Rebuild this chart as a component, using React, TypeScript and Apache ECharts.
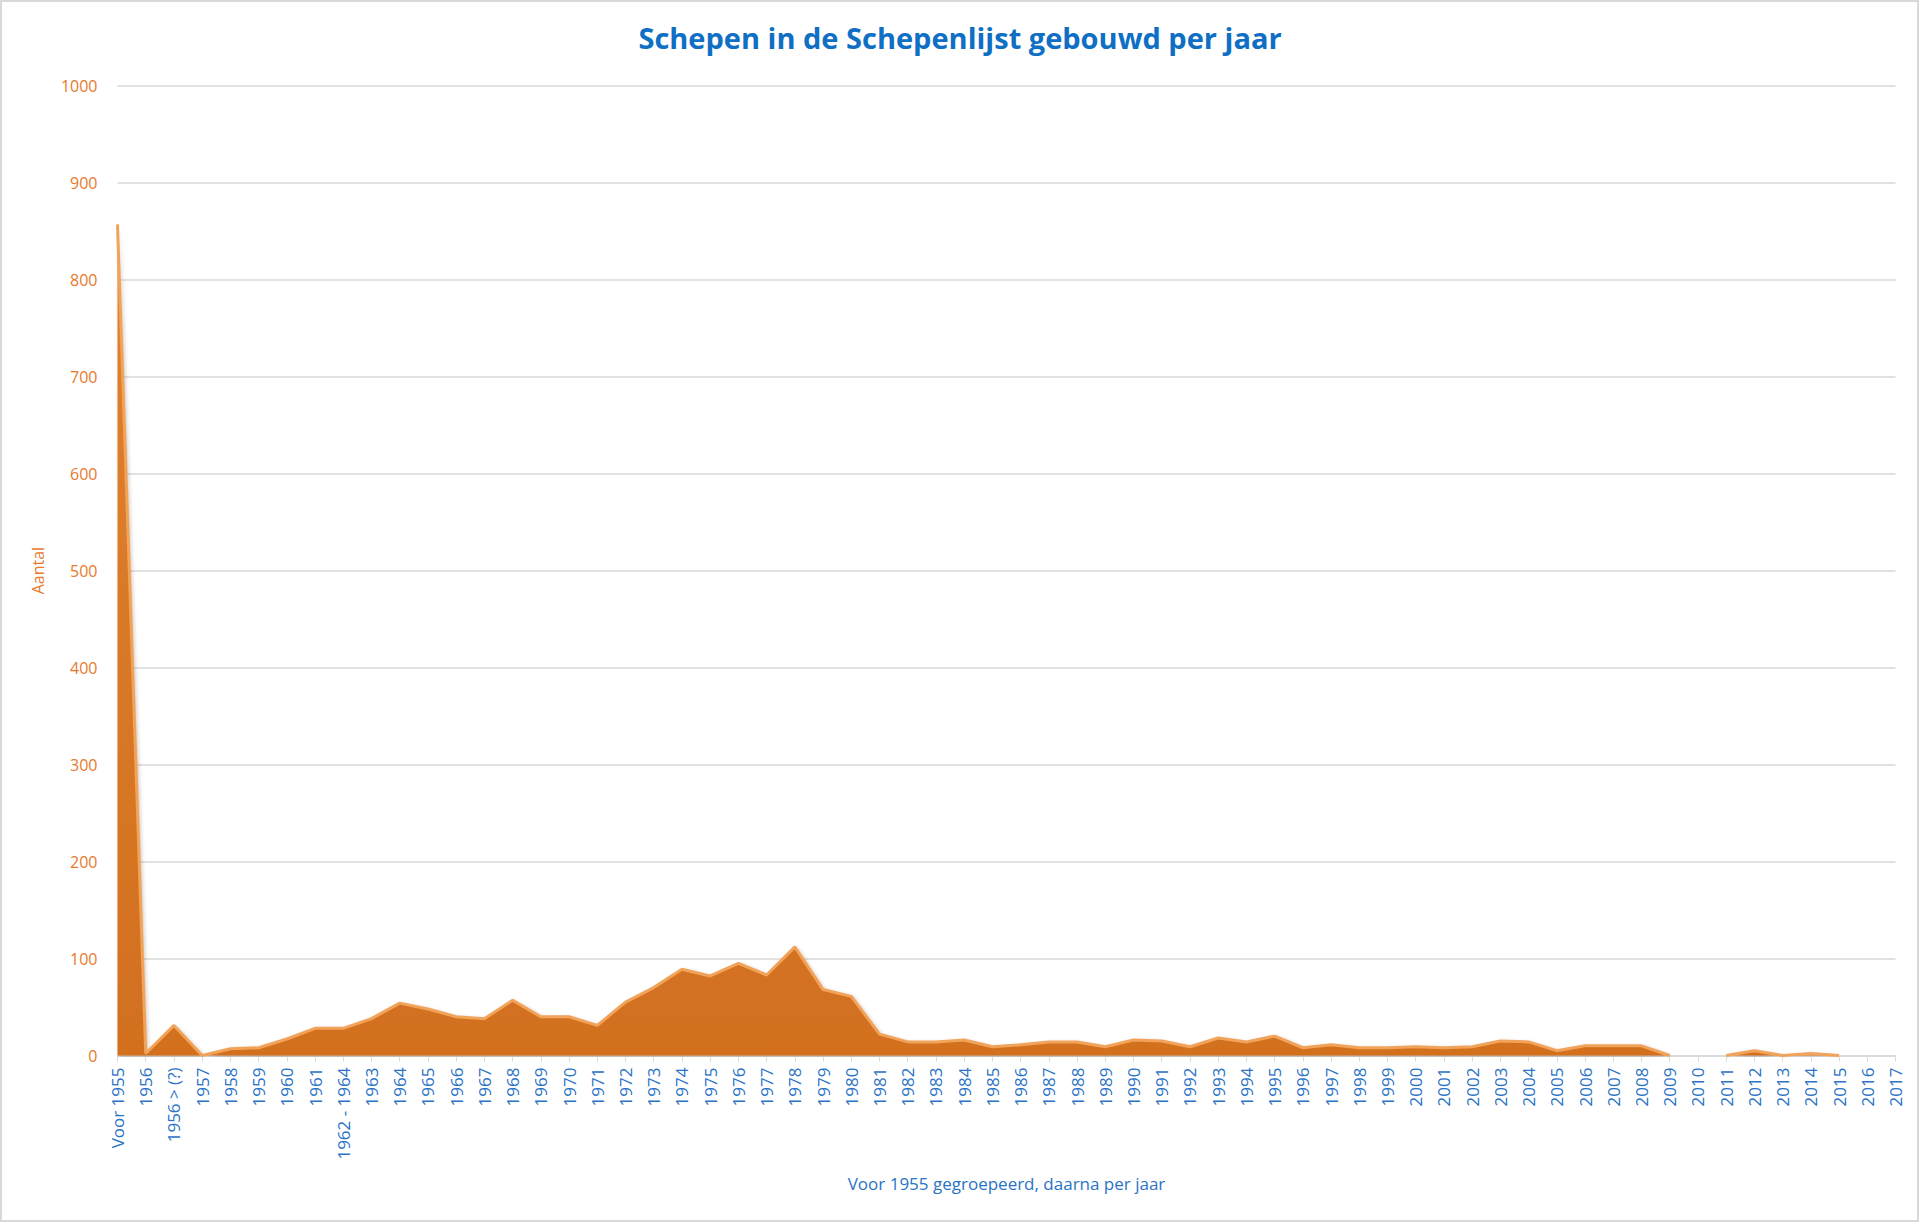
import React, { useEffect, useRef } from "react";
import * as echarts from "echarts";

const categories: string[] = [
  "Voor 1955", "1956", "1956 > (?)", "1957", "1958", "1959", "1960", "1961", "1962 - 1964",
  "1963", "1964", "1965", "1966", "1967", "1968", "1969", "1970", "1971", "1972",
  "1973", "1974", "1975", "1976", "1977", "1978", "1979", "1980", "1981", "1982",
  "1983", "1984", "1985", "1986", "1987", "1988", "1989", "1990", "1991", "1992",
  "1993", "1994", "1995", "1996", "1997", "1998", "1999", "2000", "2001", "2002",
  "2003", "2004", "2005", "2006", "2007", "2008", "2009", "2010", "2011", "2012",
  "2013", "2014", "2015", "2016", "2017",
];

const aantal: (number | null)[] = [
  857, 2, 31, 0, 7, 8, 17, 28, 28,
  38, 54, 48, 40, 38, 57, 40, 40, 31, 55,
  70, 89, 82, 95, 83, 112, 68, 61, 22, 14,
  14, 16, 9, 11, 14, 14, 9, 16, 15, 9,
  18, 14, 20, 8, 11, 8, 8, 9, 8, 9,
  15, 14, 5, 10, 10, 10, 0, null, 0, 5,
  0, 2, 0, null, null,
];

const yTicks = { min: 0, max: 1000, interval: 100 };

const titleText = "Schepen in de Schepenlijst gebouwd per jaar";
const xName = "Voor 1955 gegroepeerd, daarna per jaar";
const yName = "Aantal";

export default function App() {
  const ref = useRef<HTMLDivElement>(null);
  useEffect(() => {
    if (!ref.current) return;
    const chart = echarts.init(ref.current, undefined, { renderer: "svg" });
    const font = "'Open Sans', 'Noto Sans', sans-serif";
    chart.setOption({
      animation: false,
      backgroundColor: "#ffffff",
      textStyle: { fontFamily: font },
      title: {
        text: titleText,
        left: "center",
        top: 18,
        textStyle: { fontFamily: font, fontSize: 29, fontWeight: "bold", color: "#0E6FC4" },
      },
      graphic: [
        {
          type: "rect",
          shape: { x: 1, y: 1, width: 1917, height: 1220 },
          style: { fill: "none", stroke: "#d9d9d9", lineWidth: 2 },
          silent: true,
        },
      ],
      grid: { left: 117.5, right: 24.5, top: 85.7, bottom: 167.5 },
      xAxis: {
        type: "category",
        data: categories,
        boundaryGap: false,
        name: xName,
        nameLocation: "middle",
        nameGap: 119,
        nameTextStyle: { fontFamily: font, fontSize: 17, color: "#2A73C5" },
        axisLine: { lineStyle: { color: "#d9d9d9", width: 1.5 } },
        axisTick: { show: true, length: 6, lineStyle: { color: "#d9d9d9" } },
        axisLabel: {
          interval: 0,
          rotate: 90,
          fontFamily: font,
          fontSize: 17,
          color: "#2A73C5",
          margin: 12,
        },
        splitLine: { show: false },
      },
      yAxis: {
        type: "value",
        min: yTicks.min,
        max: yTicks.max,
        interval: yTicks.interval,
        name: yName,
        nameLocation: "middle",
        nameRotate: 90,
        nameGap: 72,
        nameTextStyle: { fontFamily: font, fontSize: 16, color: "#E8792D" },
        axisLine: { show: false },
        axisTick: { show: false },
        axisLabel: {
          fontFamily: font,
          fontSize: 16,
          color: "#E8792D",
          margin: 20,
          formatter: (v: number) => String(v),
        },
        splitLine: { lineStyle: { color: "#d9d9d9", width: 1.5 } },
      },
      series: [
        {
          type: "line",
          data: aantal,
          symbol: "none",
          connectNulls: false,
          lineStyle: { color: "#F2A35A", width: 3 },
          areaStyle: {
            opacity: 1,
            color: new echarts.graphic.LinearGradient(0, 0, 0, 1, [
              { offset: 0, color: "#E0812F" },
              { offset: 1, color: "#D2701F" },
            ]),
            shadowColor: "rgba(90,40,0,0.35)",
            shadowBlur: 4,
            shadowOffsetX: 2,
            shadowOffsetY: 1,
          },
          itemStyle: { color: "#E0812F" },
        },
      ],
    });
    return () => chart.dispose();
  }, []);
  return (
    <div
      ref={ref}
      style={{ position: "fixed", left: 0, top: 0, width: "1920px", height: "1223px" }}
    />
  );
}
